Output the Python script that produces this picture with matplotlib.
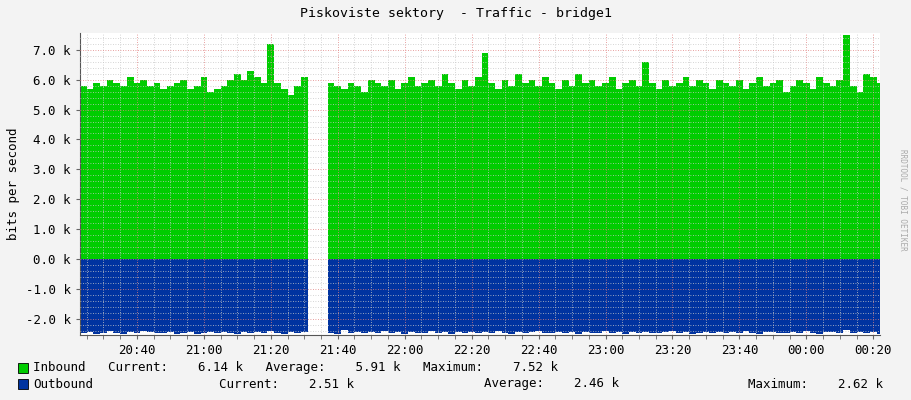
import numpy as np
import matplotlib
matplotlib.use("Agg")
import matplotlib.pyplot as plt

nan = float('nan')
# minutes since 20:00, 2-minute steps
times = list(range(23, 263, 2))
inbound_k = [5.8,5.7,5.9,5.8,6.0,5.9,5.8,6.1,5.9,6.0,5.8,5.9,5.7,5.8,5.9,6.0,5.7,5.8,6.1,5.6,
             5.7,5.8,6.0,6.2,6.0,6.3,6.1,5.9,7.2,5.9,5.7,5.5,5.8,6.1,6.0,
             nan,nan,
             5.9,5.8,5.7,5.9,5.8,5.6,6.0,5.9,5.8,6.0,5.7,5.9,6.1,5.8,5.9,6.0,5.8,6.2,5.9,5.7,
             6.0,5.8,6.1,6.9,5.9,5.7,6.0,5.8,6.2,5.9,6.0,5.8,6.1,5.9,5.7,6.0,5.8,6.2,5.9,6.0,
             5.8,5.9,6.1,5.7,5.9,6.0,5.8,6.6,5.9,5.7,6.0,5.8,5.9,6.1,5.8,6.0,5.9,5.7,6.0,5.9,
             5.8,6.0,5.7,5.9,6.1,5.8,5.9,6.0,5.6,5.8,6.0,5.9,5.7,6.1,5.9,5.8,6.0,7.5,5.8,5.6,6.2,6.1,5.9]
outbound_k = [2.47,2.45,2.50,2.48,2.40,2.46,2.49,2.44,2.47,2.39,2.45,2.48,2.46,2.43,2.49,2.47,2.44,2.50,2.46,2.45,
              2.48,2.43,2.46,2.49,2.45,2.47,2.44,2.48,2.42,2.46,2.49,2.45,2.47,2.43,2.46,
              nan,nan,
              2.46,2.49,2.38,2.47,2.45,2.48,2.44,2.46,2.42,2.47,2.45,2.49,2.43,2.46,2.48,2.41,2.47,2.45,2.49,2.44,
              2.46,2.43,2.48,2.45,2.47,2.42,2.46,2.49,2.44,2.47,2.45,2.40,2.48,2.46,2.43,2.47,2.45,2.49,2.44,2.46,
              2.48,2.42,2.46,2.45,2.49,2.44,2.47,2.43,2.46,2.48,2.45,2.41,2.47,2.44,2.49,2.46,2.43,2.47,2.45,2.48,
              2.44,2.46,2.42,2.47,2.49,2.45,2.43,2.46,2.48,2.44,2.47,2.41,2.46,2.49,2.45,2.43,2.47,2.38,2.46,2.44,2.48,2.45,2.51]
xtick_minutes = [40, 60, 80, 100, 120, 140, 160, 180, 200, 220, 240, 260]
xtick_labels = ["20:40","21:00","21:20","21:40","22:00","22:20","22:40","23:00","23:20","23:40","00:00","00:20"]
ytick_vals = [-2, -1, 0, 1, 2, 3, 4, 5, 6, 7]

mono = "DejaVu Sans Mono"
fig = plt.figure(figsize=(9.11, 4.0), dpi=100, facecolor="#f3f3f3")
ax = fig.add_axes([80/911, 65/400, 800/911, 302/400], facecolor="white")

t = np.array(times + [times[-1] + 2], dtype=float)
inb = np.array(inbound_k + [inbound_k[-1]])
outb = -np.array(outbound_k + [outbound_k[-1]])
ax.fill_between(t, 0, inb, step="post", color="#00cc00", linewidth=0, zorder=2)
ax.fill_between(t, 0, outb, step="post", color="#0033a0", linewidth=0, zorder=2)

ax.set_xlim(23, 262)
ax.set_ylim(-2.54, 7.56)

# grids
for m in range(25, 262, 5):
    c = "#e08080" if m % 20 == 0 else "#c8c8c8"
    ax.axvline(m, color=c, lw=0.6, ls=(0, (1, 2)), zorder=3)
for v in np.arange(-2.4, 7.6, 0.2):
    major = abs(v - round(v)) < 1e-6
    ax.axhline(v, color="#e08080" if major else "#c8c8c8", lw=0.6, ls=(0, (1, 2)), zorder=3)

ax.set_xticks(xtick_minutes)
ax.set_xticklabels(xtick_labels, fontfamily=mono, fontsize=9)
ax.set_yticks(ytick_vals)
ax.set_yticklabels([f"{v:.1f} k" for v in ytick_vals], fontfamily=mono, fontsize=9)
ax.set_xticks(range(25, 262, 5), minor=True)
ax.tick_params(axis="x", which="both", length=3, direction="out", color="#666666")
ax.tick_params(axis="y", length=3, direction="out", color="#666666")
for s in ["top", "right"]:
    ax.spines[s].set_visible(False)
for s in ["left", "bottom"]:
    ax.spines[s].set_color("#555555")
    ax.spines[s].set_linewidth(0.8)
ax.set_ylabel("bits per second", fontfamily=mono, fontsize=9)

fig.text(0.5, 1 - 14/400, "Piskoviste sektory  - Traffic - bridge1", ha="center", va="center",
         fontfamily=mono, fontsize=9.5)
fig.text(903/911, 0.5, "RRDTOOL / TOBI OETIKER", rotation=270, ha="center", va="center",
         fontfamily=mono, fontsize=5.5, color="#aaaaaa")

def swatch(y, col):
    fig.patches.append(plt.Rectangle((18/911, y - 5/400), 10/911, 10/400, transform=fig.transFigure,
                                     facecolor=col, edgecolor="black", lw=0.6))
swatch(1 - 368/400, "#00cc00")
swatch(1 - 384/400, "#0033a0")
fig.text(33/911, 1 - 368/400, "Inbound   Current:    6.14 k   Average:    5.91 k   Maximum:    7.52 k",
         va="center", fontfamily=mono, fontsize=9)
fig.text(33/911, 1 - 384/400, "Outbound", va="center", fontfamily=mono, fontsize=9)
fig.text(219/911, 1 - 384/400, "Current:    2.51 k", va="center", fontfamily=mono, fontsize=9)
fig.text(484/911, 1 - 384/400, "Average:    2.46 k", va="center", fontfamily=mono, fontsize=9)
fig.text(748/911, 1 - 384/400, "Maximum:    2.62 k", va="center", fontfamily=mono, fontsize=9)

fig.savefig("out.png", dpi=100, facecolor=fig.get_facecolor())
